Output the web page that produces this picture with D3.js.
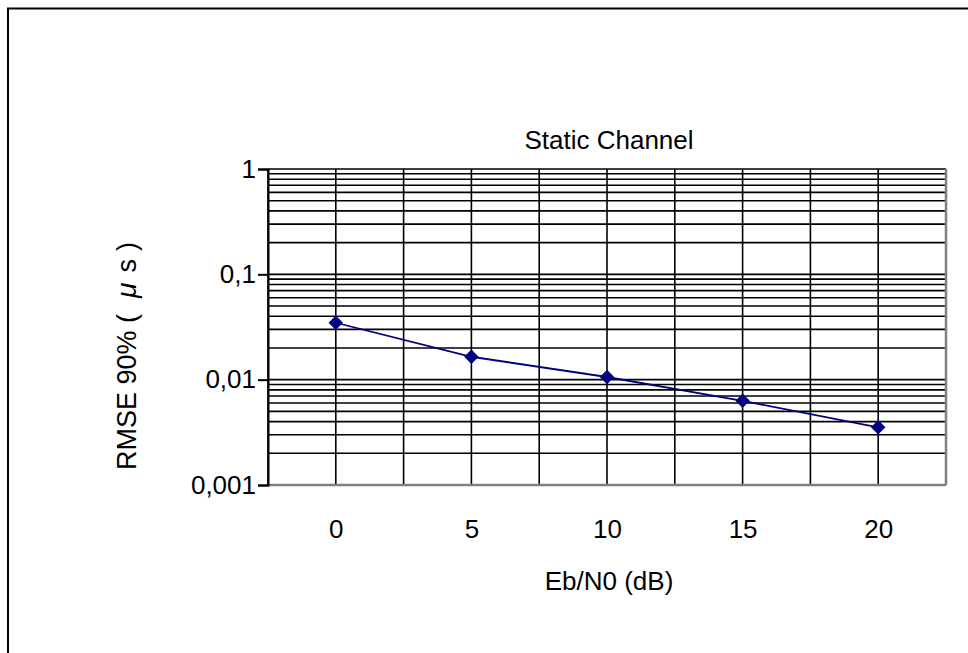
<!DOCTYPE html>
<html>
<head>
<meta charset="utf-8">
<script src="https://cdn.jsdelivr.net/npm/d3@7"></script>
<style>
  html, body { margin: 0; padding: 0; background: #fff; }
  svg { display: block; }
  text { font-family: "Liberation Sans", Arial, sans-serif; fill: #000; }
</style>
</head>
<body>
<svg id="chart" width="968" height="653"></svg>
<script>
const ebn0 = [0, 5, 10, 15, 20];
const rmse90 = [0.0347, 0.0165, 0.0106, 0.0063, 0.00353];
const xTickLabels = ["0", "5", "10", "15", "20"];
const yTickValues = [0.001, 0.01, 0.1, 1];
const yTickLabels = ["0,001", "0,01", "0,1", "1"];
const title = "Static Channel";
const xLabel = "Eb/N0 (dB)";
const yLabelMain = "RMSE 90% (";
const yLabelMu = "\u03BC";
const yLabelS = "s";
const yLabelEnd = ")";

const FS = 26;
const FSY = 27;
const svg = d3.select("#chart");
const W = 968, H = 653;

// outer chart border (extends past right/bottom edges like the reference)
svg.append("rect")
  .attr("x", 8).attr("y", 8.5)
  .attr("width", W + 20).attr("height", H + 20)
  .attr("fill", "none").attr("stroke", "#000").attr("stroke-width", 2);

const plot = { left: 268, right: 946, top: 169, bottom: 485 };

const x = d3.scaleLinear().domain([-2.5, 22.5]).range([plot.left, plot.right]);
const y = d3.scaleLog().domain([0.001, 1]).range([plot.bottom, plot.top]);

const g = svg.append("g");

// horizontal gridlines: major and minor (2..9 per decade)
const hLines = [];
for (let e = -3; e < 0; e++) {
  for (let m = 1; m <= 9; m++) hLines.push(m * Math.pow(10, e));
}
hLines.push(1);
g.append("g").selectAll("line").data(hLines).join("line")
  .attr("x1", plot.left).attr("x2", plot.right)
  .attr("y1", d => y(d)).attr("y2", d => y(d))
  .attr("stroke", "#000").attr("stroke-width", 1.6);

// vertical gridlines every 2.5 dB
const vLines = d3.range(-2.5, 22.6, 2.5);
g.append("g").selectAll("line").data(vLines).join("line")
  .attr("x1", d => x(d)).attr("x2", d => x(d))
  .attr("y1", plot.top).attr("y2", plot.bottom)
  .attr("stroke", "#000").attr("stroke-width", 1.6);

// plot area border: right & bottom gray
g.append("line").attr("x1", plot.right).attr("x2", plot.right)
  .attr("y1", plot.top).attr("y2", plot.bottom)
  .attr("stroke", "#808080").attr("stroke-width", 2.5);
g.append("line").attr("x1", plot.left).attr("x2", plot.right)
  .attr("y1", plot.bottom).attr("y2", plot.bottom)
  .attr("stroke", "#808080").attr("stroke-width", 2.5);

// y axis
const yAxis = d3.axisLeft(y)
  .tickValues(yTickValues)
  .tickFormat((d, i) => yTickLabels[i])
  .tickSize(10).tickPadding(2);
const ya = svg.append("g").attr("transform", `translate(${plot.left},0)`).call(yAxis);
ya.attr("font-size", FS).attr("font-family", "Liberation Sans, Arial, sans-serif");
ya.select(".domain").attr("stroke", "#000").attr("stroke-width", 2);
ya.selectAll(".tick line").attr("stroke", "#000").attr("stroke-width", 2);
ya.selectAll(".tick text").attr("font-size", FS).attr("fill", "#000");

// x axis (labels only)
const xAxis = d3.axisBottom(x)
  .tickValues(ebn0)
  .tickFormat((d, i) => xTickLabels[i])
  .tickSize(0).tickPadding(35);
const xa = svg.append("g").attr("transform", `translate(0,${plot.bottom})`).call(xAxis);
xa.attr("font-size", FS).attr("font-family", "Liberation Sans, Arial, sans-serif");
xa.select(".domain").remove();
xa.selectAll(".tick text").attr("font-size", FS).attr("fill", "#000");

// series line
const line = d3.line().x((d, i) => x(ebn0[i])).y(d => y(d));
svg.append("path").datum(rmse90)
  .attr("d", line).attr("fill", "none")
  .attr("stroke", "#000080").attr("stroke-width", 1.8);

// diamond markers
const sym = d3.symbol().type(d3.symbolSquare).size(85);
svg.append("g").selectAll("path").data(rmse90).join("path")
  .attr("d", sym)
  .attr("transform", (d, i) => `translate(${x(ebn0[i])},${y(d)}) rotate(45)`)
  .attr("fill", "#000080").attr("stroke", "#000080").attr("stroke-width", 1);

// title
svg.append("text").attr("x", 609).attr("y", 149)
  .attr("text-anchor", "middle").attr("font-size", FS).text(title);

// x label
svg.append("text").attr("x", 609).attr("y", 590)
  .attr("text-anchor", "middle").attr("font-size", FS).text(xLabel);

// y label
const yl = svg.append("text")
  .attr("transform", `translate(136,470) rotate(-90)`)
  .attr("text-anchor", "start").attr("font-size", FSY);
yl.append("tspan").text(yLabelMain);
yl.append("tspan").attr("dx", 16).attr("font-style", "italic").attr("font-size", 28).text(yLabelMu);
yl.append("tspan").attr("dx", 10).text(yLabelS);
yl.append("tspan").attr("dx", 8).text(yLabelEnd);
</script>
</body>
</html>
